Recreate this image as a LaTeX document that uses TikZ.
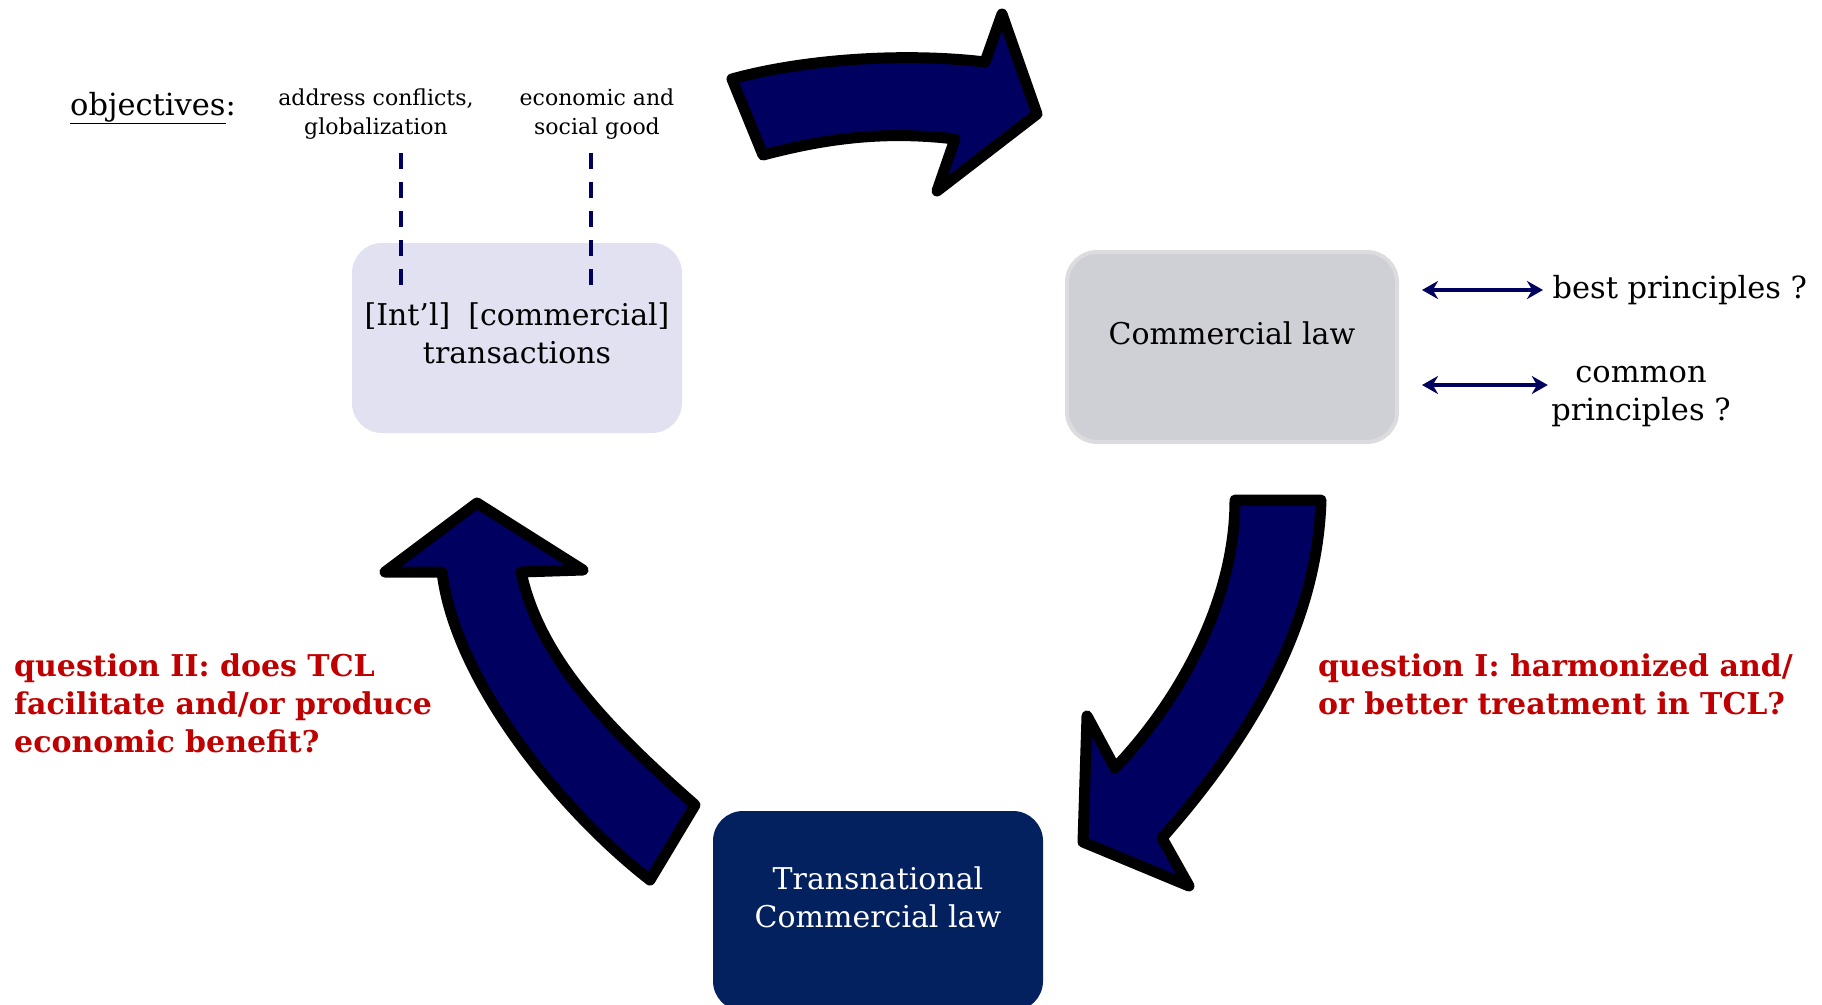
\documentclass[tikz,border=0pt]{standalone}
\usepackage{fontspec}
\setmainfont{DejaVu Serif}
\usetikzlibrary{arrows.meta}
\definecolor{navy}{HTML}{00005E}
\definecolor{arrowblue}{HTML}{000060}
\definecolor{tclblue}{HTML}{03205F}
\definecolor{lawgray}{HTML}{CFD0D6}
\definecolor{lawborder}{HTML}{DCDCDE}
\definecolor{lavender}{HTML}{E1E1F1}
\definecolor{qred}{HTML}{C00000}

\begin{document}
\begin{tikzpicture}[x=1pt,y=-1pt]
        % cycle: transactions -> commercial law -> TCL -> transactions
        \tikzstyle{box} = [rectangle,rounded corners=30pt,minimum width=330pt,minimum height=190pt,align=center,font=\fontsize{30}{38}\selectfont];
        \tikzstyle{plain} = [font=\fontsize{30.5}{38}\selectfont,align=center];
        \tikzstyle{small} = [font=\fontsize{22}{29}\selectfont,align=center];
        \tikzstyle{question} = [text=qred,font=\fontsize{30}{38}\selectfont\bfseries,align=left,anchor=north west,inner sep=0pt];
        \tikzstyle{bigarrow} = [fill=arrowblue,draw=black,line width=11pt,line join=round];
        \tikzstyle{objline} = [draw=navy,line width=3.5pt,dash pattern=on 16pt off 13pt];
        \tikzstyle{pairarrow} = [{Stealth[length=16pt,width=18pt]}-{Stealth[length=16pt,width=18pt]},draw=navy,fill=navy,line width=3.5pt];

        \useasboundingbox (0,0) rectangle (1822,1004);

        \node[box,fill=lavender,text depth=9pt] (trans) at (517,338) {[Int’l]\hspace{0.6em}[commercial]\\transactions};
        \node[box,fill=lawgray,draw=lawborder,line width=4pt,text depth=28pt] (comlaw) at (1232,347) {Commercial law};
        \node[box,fill=tclblue,text=white,minimum height=200pt,text depth=28pt] (tcl) at (878,911) {Transnational\\Commercial law};

        \node[plain,anchor=west,inner sep=0pt] (obj) at (70,108) {\underline{objectives}:};
        \node[small] (goal1) at (376,114) {address conflicts,\\globalization};
        \node[small] (goal2) at (597,114) {economic and\\social good};
        \coordinate (d1) at (401,285);
        \coordinate (d2) at (591,285);
        \draw[objline] ([yshift=-10pt]goal1.south -| d1) -- (d1);
        \draw[objline] ([yshift=-10pt]goal2.south -| d2) -- (d2);

        \node[plain,anchor=west] (best) at (1549,290) {best principles ?};
        \node[plain] (common) at (1641,397) {common\\principles ?};
        \coordinate (c1) at (1422,385);
        \draw[pairarrow] ([xshift=23pt]comlaw.east |- best.west) -- ([xshift=-6pt]best.west);
        \draw[pairarrow] (c1) -- (c1 -| common.west);

        \node[question] (q2) at (14,653) {question II: does TCL\\facilitate and/or produce\\economic benefit?};
        \node[question] (q1) at (1318,653) {question I: harmonized and/\\or better treatment in TCL?};

        \draw[bigarrow] (732,79) .. controls (800,60) and (900,52) .. (985,62) -- (1002,14) -- (1037,114) -- (937,191) -- (955,139) .. controls (880,130) and (820,140) .. (763,155) -- cycle;
        \draw[bigarrow] (1235,500) -- (1321,500) .. controls (1318,600) and (1275,710) .. (1162,838) -- (1189,886) -- (1083,842) -- (1087,716) -- (1115,768) .. controls (1180,700) and (1235,600) .. (1235,500) -- cycle;
        \draw[bigarrow] (650,880) .. controls (560,810) and (455,680) .. (442,572) -- (385,572) -- (477,503) -- (583,570) -- (521,572) .. controls (540,660) and (610,730) .. (695,805) -- cycle;
\end{tikzpicture}
\end{document}
